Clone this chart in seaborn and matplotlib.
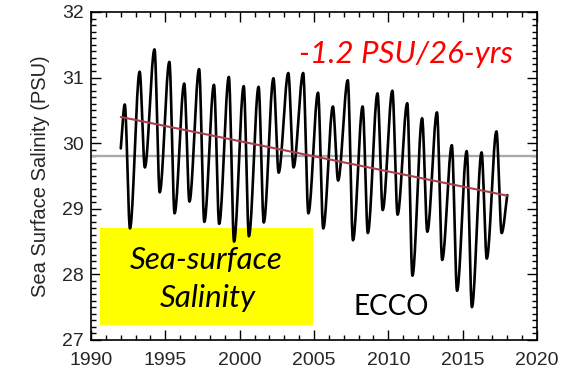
import numpy as np
import pandas as pd
import seaborn as sns
import matplotlib
matplotlib.use("Agg")
import matplotlib.pyplot as plt
from matplotlib.ticker import MultipleLocator
from matplotlib.patches import Rectangle

# ---- ECCO sea-surface salinity, annual cycle extremes (PSU) ----
years = list(range(1992, 2018))
peak_values = [30.59, 31.09, 31.43, 31.24, 30.91, 31.13, 30.89, 31.01, 30.87,
               30.86, 30.99, 31.07, 31.07, 30.77, 30.56, 30.96, 30.56, 30.76,
               30.80, 30.61, 30.38, 30.47, 29.97, 29.88, 29.86, 30.18]
trough_values = [28.70, 29.63, 29.25, 28.93, 29.11, 28.80, 28.77, 28.50, 28.58,
                 28.79, 29.55, 29.63, 28.93, 28.70, 29.43, 28.52, 28.63, 28.98,
                 28.91, 27.98, 28.65, 28.22, 27.75, 27.50, 28.24, 28.63]
peak_phase = 0.27     # fraction of the year at the seasonal maximum
trough_phase = 0.62   # fraction of the year at the seasonal minimum
first_point = (1992.0, 29.92)
last_point = (2018.0, 29.21)

# ---- reference levels ----
mean_level = 29.8
trend_years = [1992.0, 2018.0]
trend_start = 30.4
trend_change = -1.2   # PSU over the record

trend_label = "-1.2 PSU/26-yrs"
panel_title = ["Sea-surface", "Salinity"]
source_label = "ECCO"
y_label = "Sea Surface Salinity (PSU)"


def smooth_curve(tk, vk, n=20):
    """Shape-preserving cubic (Fritsch-Carlson) curve through the knots."""
    tk = np.asarray(tk, float)
    vk = np.asarray(vk, float)
    h = np.diff(tk)
    d = np.diff(vk) / h
    m = np.zeros_like(vk)
    for i in range(1, len(vk) - 1):
        if d[i - 1] * d[i] > 0:
            w1 = 2 * h[i] + h[i - 1]
            w2 = h[i] + 2 * h[i - 1]
            m[i] = (w1 + w2) / (w1 / d[i - 1] + w2 / d[i])
    m[0] = d[0]
    m[-1] = d[-1]
    ts, vs = [], []
    for i in range(len(tk) - 1):
        s = np.linspace(0, 1, n, endpoint=False)
        h00 = 2 * s**3 - 3 * s**2 + 1
        h10 = s**3 - 2 * s**2 + s
        h01 = -2 * s**3 + 3 * s**2
        h11 = s**3 - s**2
        ts.append(tk[i] + s * h[i])
        vs.append(h00 * vk[i] + h10 * h[i] * m[i] + h01 * vk[i + 1] + h11 * h[i] * m[i + 1])
    ts.append([tk[-1]])
    vs.append([vk[-1]])
    return np.concatenate(ts), np.concatenate(vs)


knot_t = [first_point[0]]
knot_v = [first_point[1]]
for yr, pk, tr in zip(years, peak_values, trough_values):
    knot_t += [yr + peak_phase, yr + trough_phase]
    knot_v += [pk, tr]
knot_t.append(last_point[0])
knot_v.append(last_point[1])

t_line, v_line = smooth_curve(knot_t, knot_v)
series = pd.DataFrame({"year": t_line, "sss": v_line})
trend = pd.DataFrame({"year": trend_years,
                      "sss": [trend_start, trend_start + trend_change]})

sns.set_style("ticks")
plt.rcParams["font.family"] = ["Liberation Sans", "DejaVu Sans"]

fig = plt.figure(figsize=(5.85, 3.71), dpi=100)
ax = fig.add_axes([0.1556, 0.0836, 0.7624, 0.8841])

# highlight box behind the curve
ax.add_patch(Rectangle((0.020, 0.046), 0.477, 0.296, transform=ax.transAxes,
                       facecolor="#ffff00", edgecolor="none", zorder=1))

ax.axhline(mean_level, color="#a9a9a9", lw=1.7, zorder=2)
sns.lineplot(data=series, x="year", y="sss", color="black", lw=1.9,
             errorbar=None, ax=ax, zorder=3)
sns.lineplot(data=trend, x="year", y="sss", color="#a8404a", lw=1.5,
             errorbar=None, ax=ax, zorder=4)

ax.set_xlim(1990, 2020)
ax.set_ylim(27, 32)
ax.xaxis.set_major_locator(MultipleLocator(5))
ax.xaxis.set_minor_locator(MultipleLocator(1))
ax.yaxis.set_major_locator(MultipleLocator(1))
ax.yaxis.set_minor_locator(MultipleLocator(0.1))
ax.tick_params(which="both", direction="in", top=True, right=True,
               color="black", width=1.0)
ax.tick_params(which="major", length=7, labelsize=14)
ax.tick_params(axis="x", which="major", pad=9)
ax.tick_params(axis="y", which="major", pad=5)
ax.tick_params(which="minor", length=3.5)
for sp in ax.spines.values():
    sp.set_visible(True)
    sp.set_color("black")
    sp.set_linewidth(1.2)

ax.set_xlabel("")
ax.set_ylabel(y_label, fontsize=14.5, labelpad=9)

italic_font = ["Lato", "DejaVu Sans"]
ax.text(0.706, 0.845, trend_label, transform=ax.transAxes, ha="center",
        va="baseline", color="#ff0000", fontsize=22.5, style="italic",
        family=italic_font, zorder=5)
ax.text(0.258, 0.2155, panel_title[0], transform=ax.transAxes,
        ha="center", va="baseline", color="black", fontsize=22.5,
        style="italic", family=italic_font, zorder=5)
ax.text(0.262, 0.1015, panel_title[1], transform=ax.transAxes,
        ha="center", va="baseline", color="black", fontsize=22.5,
        style="italic", family=italic_font, zorder=5)
ax.text(0.672, 0.0762, source_label, transform=ax.transAxes, ha="center",
        va="baseline", color="black", fontsize=20,
        family=italic_font, zorder=5)

fig.savefig("out.png", dpi=100, facecolor="white")
